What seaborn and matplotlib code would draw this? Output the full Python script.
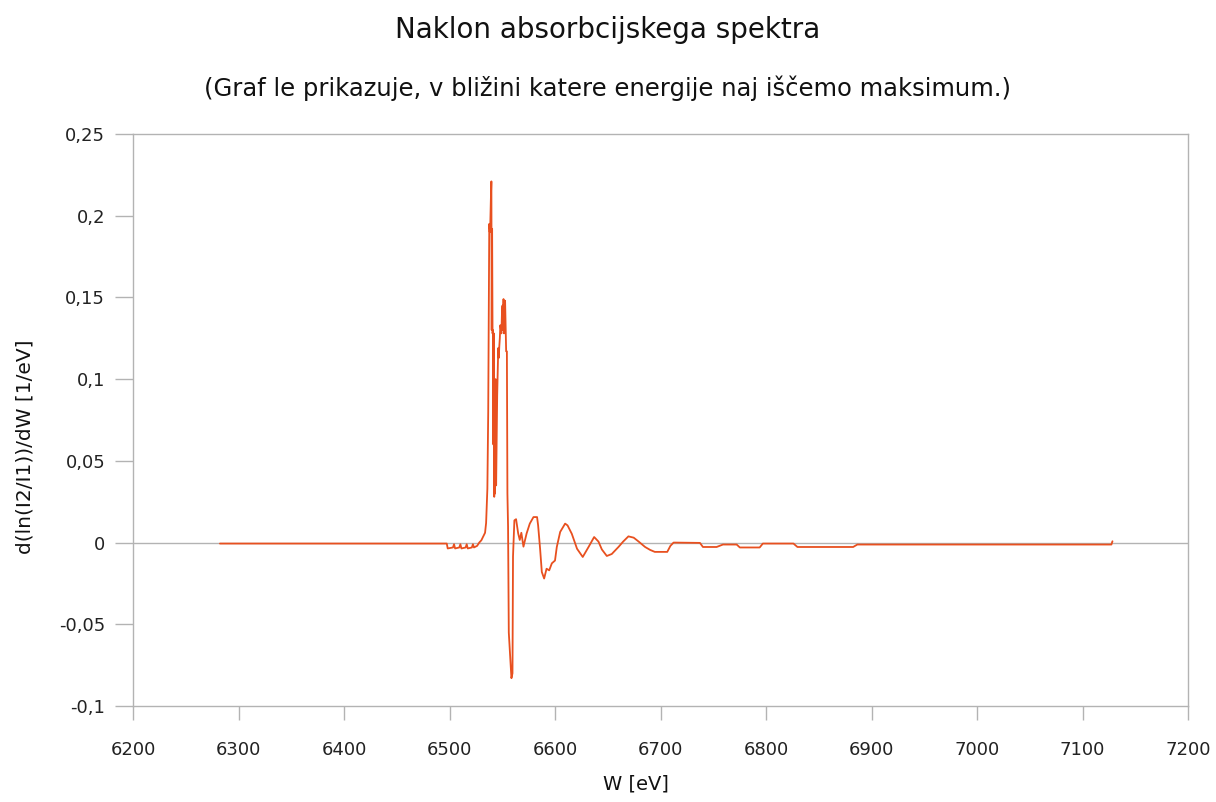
import matplotlib
matplotlib.use("Agg")
import matplotlib.pyplot as plt
import matplotlib.ticker as mticker
import seaborn as sns
import pandas as pd

# ── 1. Data ───────────────────────────────────────────────────
energy = [
    6282.4, 6354.0, 6423.7, 6497.4, 6498.3, 6503.3, 6504.3, 6505.3, 6509.3,
    6510.3, 6511.3, 6515.3, 6516.3, 6517.3, 6521.2, 6522.2, 6523.2, 6526.2,
    6528.2, 6530.2, 6532.2, 6533.7,
    6534.7, 6535.9, 6536.7, 6537.7, 6538.2, 6538.7, 6539.2, 6539.7, 6540.0,
    6540.4, 6540.8, 6541.2, 6541.6, 6542.0, 6542.4, 6542.8, 6543.2, 6543.7,
    6544.2, 6544.7, 6545.2, 6546.2, 6546.7, 6547.2, 6547.7, 6548.2, 6549.2,
    6549.7, 6550.2, 6550.7, 6551.2, 6551.7, 6552.2, 6552.7, 6553.7, 6554.4,
    6554.9, 6555.5, 6556.2, 6557.5, 6558.7, 6559.7, 6560.2, 6561.5, 6563.1,
    6565.1, 6566.6, 6568.1, 6570.1, 6571.6, 6573.1, 6576.1, 6579.6, 6583.0, 6584.0,
    6585.9, 6587.5, 6589.7, 6592.0, 6594.5, 6597.0, 6600.0, 6601.7, 6604.9,
    6609.6, 6611.9, 6615.9, 6620.9, 6626.3, 6631.8, 6637.1, 6641.2, 6644.4, 6649.1,
    6653.8, 6660.3, 6664.6, 6669.6, 6674.6, 6679.3, 6685.4, 6690.2, 6694.6, 6706.4,
    6709.4, 6712.4, 6737.4, 6740.2, 6753.2, 6759.2, 6772.2, 6775.2, 6794.0, 6797.0, 6826.0,
    6829.8, 6882.6, 6886.6, 6906.6, 6941.4, 6981.2, 7021.0, 7060.8, 7100.6, 7127.4, 7128.4,
]
slope = [
    -0.0006, -0.0006, -0.0006, -0.0006, -0.0036, -0.003, -0.001, -0.0036,
    -0.003, -0.001, -0.0036, -0.003, -0.001, -0.0036, -0.003, -0.001,
    -0.003, -0.002, 0.0, 0.0014, 0.004, 0.006,
    0.012, 0.033, 0.08, 0.195, 0.19, 0.196, 0.21, 0.221, 0.13,
    0.192, 0.128, 0.13, 0.06, 0.128, 0.028, 0.09, 0.03, 0.1,
    0.035, 0.06, 0.09, 0.119, 0.113, 0.12, 0.125, 0.133, 0.128,
    0.14, 0.145, 0.13, 0.149, 0.128, 0.146, 0.148, 0.117, 0.117,
    0.03, 0.01, -0.055, -0.07, -0.083, -0.08, -0.0085, 0.0136, 0.0143,
    0.0056, 0.0016, 0.006, -0.0025, 0.0016, 0.0056, 0.0116, 0.0156, 0.0156, 0.0105,
    -0.004, -0.018, -0.022, -0.016, -0.017, -0.0127, -0.011, -0.0027, 0.0065,
    0.0116, 0.0105, 0.0054, -0.0038, -0.0088, -0.0027, 0.0034, 0.0006, -0.0042, -0.0082,
    -0.007, -0.0026, 0.0006, 0.0038, 0.003, 0.0006, -0.0027, -0.0045, -0.0057, -0.0057,
    -0.002, 0.0, -0.0002, -0.0027, -0.0027, -0.0012, -0.0012, -0.003, -0.003, -0.0006, -0.0006,
    -0.0027, -0.0027, -0.0012, -0.0012, -0.0012, -0.0012, -0.0012, -0.0012, -0.0012, -0.0012, 0.0008,
]

x_ticks = [6200, 6300, 6400, 6500, 6600, 6700, 6800, 6900, 7000, 7100, 7200]
y_ticks = [-0.1, -0.05, 0, 0.05, 0.1, 0.15, 0.2, 0.25]

df = pd.DataFrame({"W": energy, "slope": slope})

# ── 2. Style ──────────────────────────────────────────────────
sns.set_style("white")
plt.rcParams["font.family"] = ["DejaVu Sans"]

grey = "#b3b3b3"
line_col = "#e8501f"

fig = plt.figure(figsize=(12.16, 8.02), dpi=100)
ax = fig.add_axes([133 / 1216, 96 / 802, 1055 / 1216, 572 / 802])

sns.lineplot(data=df, x="W", y="slope", ax=ax, color=line_col,
             linewidth=1.3, estimator=None, sort=True, zorder=3)
ax.axhline(0, color=grey, linewidth=1.0, zorder=2)

ax.set_xlim(6200, 7200)
ax.set_ylim(-0.1, 0.25)
ax.set_xticks(x_ticks)
ax.set_yticks(y_ticks)
ax.yaxis.set_major_formatter(
    mticker.FuncFormatter(lambda v, _: f"{v:g}".replace(".", ",")))

for s in ax.spines.values():
    s.set_color(grey)
    s.set_linewidth(1.0)
# seaborn "white" hides ticks, switch them back on
ax.tick_params(axis="both", direction="out", width=1.0, color=grey,
               labelsize=13, labelcolor="#222222", bottom=True, left=True)
ax.tick_params(axis="x", length=10, pad=15)
ax.tick_params(axis="y", length=13, pad=7)

ax.set_xlabel("")
ax.set_ylabel("")

# ── 3. Texts ──────────────────────────────────────────────────
fig.text(0.5, 1 - 30 / 802, "Naklon absorbcijskega spektra",
         ha="center", va="center", fontsize=20, color="#111111")
fig.text(0.5, 1 - 88 / 802,
         "(Graf le prikazuje, v bližini katere energije naj iščemo maksimum.)",
         ha="center", va="center", fontsize=17.5, color="#111111")
fig.text(636 / 1216, 1 - 784 / 802, "W [eV]", ha="center", va="center",
         fontsize=14, color="#111111")
fig.text(25 / 1216, 1 - 447 / 802, "d(ln(I2/I1))/dW [1/eV]", ha="center",
         va="center", rotation=90, fontsize=14.5, color="#111111")

fig.savefig("out.png", dpi=100)
